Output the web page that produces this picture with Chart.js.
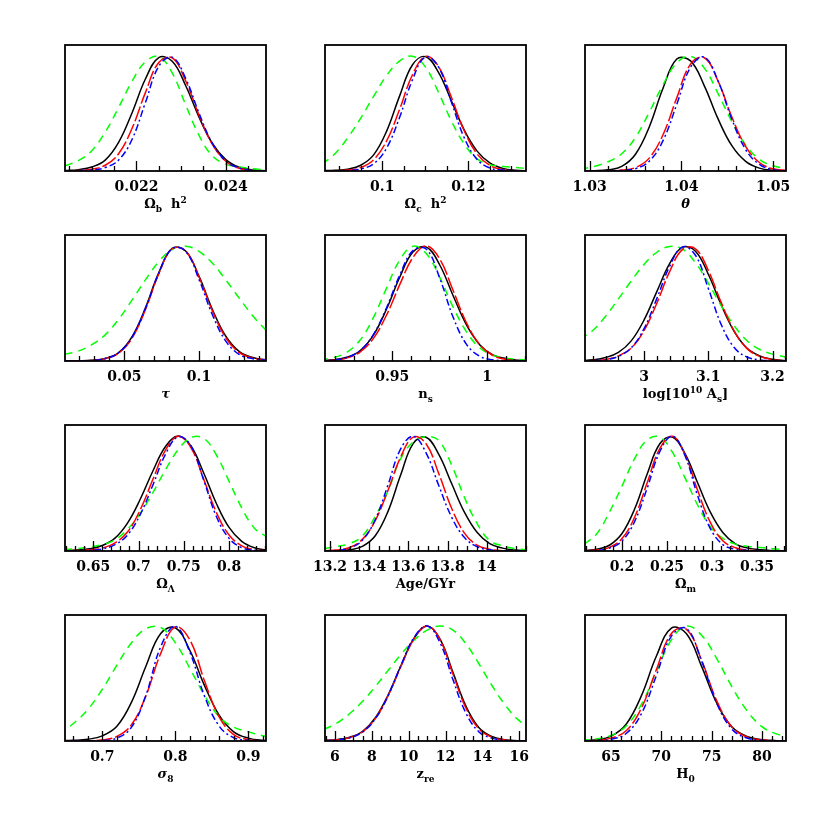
<!DOCTYPE html>
<html>
<head>
<meta charset="utf-8">
<script src="https://cdn.jsdelivr.net/npm/chart.js@4.4.0/dist/chart.umd.min.js"></script>
<style>
  html, body { margin: 0; padding: 0; background: #fff; }
  #wrap { position: relative; width: 830px; height: 830px; }
  #wrap canvas { position: absolute; }
</style>
</head>
<body>
<div id="wrap"></div>
<script>
// ---- Omega_b h^2
const obhX     = [0.0204, 0.0207, 0.0210, 0.0213, 0.0216, 0.0219, 0.0222, 0.0225, 0.0228, 0.0231, 0.0234, 0.0237, 0.0240, 0.0243, 0.0246, 0.0249];
const obhBlack = [0.004, 0.012, 0.035, 0.095, 0.249, 0.505, 0.800, 0.986, 0.954, 0.744, 0.469, 0.239, 0.099, 0.032, 0.009, 0.002];
const obhRed   = [0.002, 0.005, 0.015, 0.050, 0.150, 0.370, 0.682, 0.944, 0.983, 0.785, 0.486, 0.231, 0.085, 0.024, 0.005, 0.001];
const obhBlue  = [0.001, 0.003, 0.008, 0.030, 0.095, 0.274, 0.594, 0.911, 0.990, 0.807, 0.503, 0.240, 0.087, 0.025, 0.005, 0.001];
const obhGreen = [0.045, 0.090, 0.177, 0.338, 0.552, 0.780, 0.950, 0.997, 0.853, 0.577, 0.310, 0.131, 0.060, 0.035, 0.020, 0.010];
const obhTicks = [0.022, 0.024];

// ---- Omega_c h^2
const ochX     = [0.086, 0.089, 0.092, 0.095, 0.098, 0.101, 0.104, 0.107, 0.110, 0.113, 0.116, 0.119, 0.122, 0.125, 0.128, 0.131, 0.134];
const ochBlack = [0.003, 0.006, 0.016, 0.050, 0.140, 0.345, 0.649, 0.922, 0.995, 0.863, 0.616, 0.360, 0.175, 0.070, 0.023, 0.006, 0.001];
const ochRed   = [0.001, 0.003, 0.008, 0.030, 0.098, 0.261, 0.533, 0.835, 0.996, 0.914, 0.648, 0.354, 0.150, 0.049, 0.012, 0.002, 0.000];
const ochBlue  = [0.000, 0.001, 0.003, 0.018, 0.063, 0.199, 0.463, 0.791, 0.992, 0.910, 0.607, 0.293, 0.103, 0.026, 0.008, 0.002, 0.000];
const ochGreen = [0.060, 0.150, 0.290, 0.460, 0.650, 0.830, 0.955, 0.999, 0.906, 0.690, 0.440, 0.238, 0.108, 0.055, 0.040, 0.030, 0.020];
const ochTicks = [0.1, 0.12];

// ---- theta
const thX     = [1.029, 1.0305, 1.032, 1.0335, 1.035, 1.0365, 1.038, 1.0395, 1.041, 1.0425, 1.044, 1.0455, 1.047, 1.0485, 1.05, 1.0515];
const thBlack = [0.000, 0.003, 0.010, 0.040, 0.146, 0.383, 0.720, 0.974, 0.958, 0.741, 0.453, 0.220, 0.084, 0.025, 0.006, 0.001];
const thRed   = [0.000, 0.000, 0.001, 0.008, 0.030, 0.112, 0.315, 0.636, 0.930, 0.985, 0.782, 0.470, 0.215, 0.074, 0.019, 0.004];
const thBlue  = [0.000, 0.000, 0.001, 0.005, 0.020, 0.085, 0.264, 0.580, 0.903, 0.991, 0.783, 0.450, 0.187, 0.057, 0.012, 0.002];
const thGreen = [0.015, 0.040, 0.080, 0.150, 0.292, 0.510, 0.750, 0.940, 0.998, 0.895, 0.673, 0.430, 0.227, 0.101, 0.045, 0.020];
const thTicks = [1.03, 1.04, 1.05];

// ---- tau
const tauX     = [0.010, 0.019, 0.028, 0.037, 0.046, 0.055, 0.064, 0.073, 0.082, 0.091, 0.100, 0.109, 0.118, 0.127, 0.136, 0.145];
const tauBlack = [0.000, 0.002, 0.006, 0.022, 0.071, 0.208, 0.458, 0.767, 0.980, 0.957, 0.736, 0.446, 0.213, 0.081, 0.030, 0.010];
const tauRed   = [0.000, 0.001, 0.004, 0.020, 0.065, 0.195, 0.443, 0.757, 0.976, 0.958, 0.731, 0.434, 0.200, 0.072, 0.025, 0.008];
const tauBlue  = [0.000, 0.001, 0.004, 0.020, 0.070, 0.203, 0.452, 0.761, 0.977, 0.954, 0.708, 0.400, 0.171, 0.056, 0.020, 0.006];
const tauGreen = [0.060, 0.085, 0.140, 0.225, 0.360, 0.527, 0.703, 0.863, 0.970, 0.999, 0.953, 0.850, 0.703, 0.545, 0.392, 0.265];
const tauTicks = [0.05, 0.1];

// ---- n_s
const nsX     = [0.912, 0.919, 0.926, 0.933, 0.940, 0.947, 0.954, 0.961, 0.968, 0.975, 0.982, 0.989, 0.996, 1.003, 1.010, 1.017, 1.024];
const nsBlack = [0.003, 0.010, 0.032, 0.089, 0.223, 0.452, 0.731, 0.950, 0.990, 0.835, 0.570, 0.316, 0.142, 0.052, 0.020, 0.006, 0.001];
const nsRed   = [0.002, 0.007, 0.025, 0.078, 0.195, 0.400, 0.666, 0.903, 1.000, 0.886, 0.615, 0.335, 0.143, 0.048, 0.014, 0.003, 0.000];
const nsBlue  = [0.002, 0.008, 0.030, 0.089, 0.228, 0.463, 0.749, 0.962, 0.972, 0.720, 0.383, 0.147, 0.041, 0.010, 0.002, 0.000, 0.000];
const nsGreen = [0.012, 0.030, 0.075, 0.180, 0.375, 0.634, 0.880, 0.998, 0.933, 0.727, 0.470, 0.256, 0.115, 0.050, 0.025, 0.012, 0.005];
const nsTicks = [0.95, 1];

// ---- log[10^10 A_s]
const asX     = [2.90, 2.92, 2.94, 2.96, 2.98, 3.00, 3.02, 3.04, 3.06, 3.08, 3.10, 3.12, 3.14, 3.16, 3.18, 3.20, 3.22];
const asBlack = [0.003, 0.010, 0.030, 0.075, 0.175, 0.357, 0.606, 0.850, 0.991, 0.955, 0.755, 0.489, 0.260, 0.113, 0.045, 0.015, 0.003];
const asRed   = [0.001, 0.004, 0.013, 0.045, 0.112, 0.265, 0.505, 0.780, 0.971, 0.976, 0.788, 0.510, 0.265, 0.110, 0.040, 0.012, 0.003];
const asBlue  = [0.000, 0.003, 0.012, 0.040, 0.115, 0.282, 0.545, 0.826, 0.992, 0.920, 0.631, 0.319, 0.119, 0.035, 0.010, 0.002, 0.000];
const asGreen = [0.190, 0.265, 0.390, 0.540, 0.696, 0.840, 0.946, 0.997, 0.973, 0.855, 0.677, 0.482, 0.310, 0.178, 0.100, 0.060, 0.035];
const asTicks = [3, 3.1, 3.2];

// ---- Omega_Lambda
const olX     = [0.618, 0.632, 0.646, 0.660, 0.674, 0.688, 0.702, 0.716, 0.730, 0.744, 0.758, 0.772, 0.786, 0.800, 0.814, 0.828, 0.842];
const olBlack = [0.004, 0.009, 0.020, 0.048, 0.112, 0.245, 0.452, 0.698, 0.911, 1.000, 0.911, 0.678, 0.413, 0.205, 0.084, 0.028, 0.008];
const olRed   = [0.002, 0.004, 0.010, 0.025, 0.070, 0.167, 0.360, 0.626, 0.880, 0.999, 0.898, 0.625, 0.335, 0.139, 0.045, 0.011, 0.002];
const olBlue  = [0.001, 0.002, 0.006, 0.018, 0.055, 0.141, 0.319, 0.577, 0.845, 0.994, 0.914, 0.617, 0.300, 0.110, 0.029, 0.006, 0.001];
const olGreen = [0.012, 0.020, 0.035, 0.055, 0.098, 0.190, 0.328, 0.510, 0.709, 0.883, 0.986, 0.980, 0.835, 0.607, 0.375, 0.198, 0.120];
const olTicks = [0.65, 0.7, 0.75, 0.8];

// ---- Age/GYr
const ageX     = [13.17, 13.235, 13.30, 13.365, 13.43, 13.495, 13.56, 13.625, 13.69, 13.755, 13.82, 13.885, 13.95, 14.015, 14.08, 14.145, 14.21];
const ageBlack = [0.000, 0.002, 0.010, 0.040, 0.130, 0.340, 0.658, 0.936, 0.989, 0.840, 0.589, 0.340, 0.163, 0.064, 0.025, 0.008, 0.002];
const ageRed   = [0.002, 0.008, 0.031, 0.101, 0.261, 0.523, 0.815, 0.990, 0.933, 0.673, 0.374, 0.158, 0.051, 0.015, 0.003, 0.001, 0.000];
const ageBlue  = [0.001, 0.005, 0.025, 0.093, 0.270, 0.570, 0.886, 0.998, 0.854, 0.569, 0.296, 0.119, 0.038, 0.010, 0.002, 0.000, 0.000];
const ageGreen = [0.020, 0.040, 0.064, 0.130, 0.300, 0.520, 0.800, 0.950, 0.995, 0.960, 0.750, 0.470, 0.240, 0.090, 0.045, 0.020, 0.010];
const ageTicks = [13.2, 13.4, 13.6, 13.8, 14];

// ---- Omega_m
const omX     = [0.158, 0.172, 0.186, 0.200, 0.214, 0.228, 0.242, 0.256, 0.270, 0.284, 0.298, 0.312, 0.326, 0.340, 0.354, 0.368, 0.382];
const omBlack = [0.004, 0.015, 0.050, 0.152, 0.365, 0.670, 0.933, 0.991, 0.847, 0.593, 0.340, 0.161, 0.062, 0.025, 0.010, 0.004, 0.001];
const omRed   = [0.002, 0.008, 0.032, 0.108, 0.293, 0.593, 0.891, 0.998, 0.837, 0.528, 0.251, 0.089, 0.028, 0.008, 0.002, 0.000, 0.000];
const omBlue  = [0.001, 0.005, 0.025, 0.087, 0.256, 0.547, 0.864, 1.000, 0.829, 0.482, 0.197, 0.056, 0.015, 0.004, 0.001, 0.000, 0.000];
const omGreen = [0.060, 0.150, 0.338, 0.565, 0.804, 0.967, 0.990, 0.860, 0.636, 0.400, 0.213, 0.110, 0.060, 0.040, 0.030, 0.020, 0.010];
const omTicks = [0.2, 0.25, 0.3, 0.35];

// ---- sigma_8
const s8X     = [0.64, 0.66, 0.68, 0.70, 0.72, 0.74, 0.76, 0.78, 0.80, 0.82, 0.84, 0.86, 0.88, 0.90, 0.92, 0.94];
const s8Black = [0.002, 0.006, 0.015, 0.045, 0.128, 0.338, 0.655, 0.935, 0.985, 0.787, 0.482, 0.225, 0.080, 0.025, 0.006, 0.001];
const s8Red   = [0.000, 0.000, 0.002, 0.010, 0.040, 0.141, 0.397, 0.762, 0.993, 0.878, 0.522, 0.209, 0.056, 0.012, 0.002, 0.000];
const s8Blue  = [0.000, 0.000, 0.000, 0.003, 0.025, 0.120, 0.403, 0.820, 0.997, 0.770, 0.390, 0.130, 0.028, 0.006, 0.001, 0.000];
const s8Green = [0.060, 0.150, 0.273, 0.450, 0.660, 0.855, 0.978, 0.987, 0.855, 0.631, 0.397, 0.212, 0.120, 0.080, 0.045, 0.025];
const s8Ticks = [0.7, 0.8, 0.9];

// ---- z_re
const zreX     = [5.4, 6.1, 6.8, 7.5, 8.2, 8.9, 9.6, 10.3, 11.0, 11.7, 12.4, 13.1, 13.8, 14.5, 15.2, 15.9, 16.6];
const zreBlack = [0.004, 0.012, 0.033, 0.085, 0.205, 0.407, 0.663, 0.896, 1.000, 0.887, 0.597, 0.305, 0.118, 0.040, 0.012, 0.003, 0.000];
const zreRed   = [0.003, 0.010, 0.030, 0.080, 0.198, 0.400, 0.657, 0.892, 1.000, 0.882, 0.582, 0.288, 0.106, 0.034, 0.009, 0.002, 0.000];
const zreBlue  = [0.003, 0.010, 0.028, 0.078, 0.195, 0.400, 0.666, 0.903, 1.000, 0.855, 0.534, 0.244, 0.081, 0.025, 0.006, 0.001, 0.000];
const zreGreen = [0.100, 0.155, 0.239, 0.345, 0.475, 0.617, 0.757, 0.878, 0.964, 1.000, 0.965, 0.846, 0.674, 0.487, 0.320, 0.190, 0.103];
const zreTicks = [6, 8, 10, 12, 14, 16];

// ---- H_0
const h0X     = [62, 63.5, 65, 66.5, 68, 69.5, 71, 72.5, 74, 75.5, 77, 78.5, 80, 81.5, 83];
const h0Black = [0.003, 0.010, 0.042, 0.146, 0.390, 0.737, 0.981, 0.933, 0.649, 0.331, 0.124, 0.040, 0.012, 0.003, 0.001];
const h0Red   = [0.001, 0.005, 0.025, 0.089, 0.283, 0.619, 0.935, 0.971, 0.702, 0.351, 0.122, 0.035, 0.010, 0.003, 0.000];
const h0Blue  = [0.000, 0.003, 0.015, 0.065, 0.235, 0.568, 0.913, 0.978, 0.696, 0.330, 0.104, 0.026, 0.006, 0.001, 0.000];
const h0Green = [0.006, 0.018, 0.048, 0.130, 0.317, 0.600, 0.880, 1.000, 0.920, 0.717, 0.474, 0.265, 0.125, 0.060, 0.030];
const h0Ticks = [65, 70, 75, 80];

// panel setup: axis range, minor tick step, axis title pieces
const panels = [
  { x: obhX, k: obhBlack, r: obhRed, b: obhBlue, g: obhGreen, ticks: obhTicks, min: 0.0204, max: 0.0249, minor: 0.0005,
    title: [['Ω'], ['b', 'sub'], ['  h'], ['2', 'sup']] },
  { x: ochX, k: ochBlack, r: ochRed, b: ochBlue, g: ochGreen, ticks: ochTicks, min: 0.0867, max: 0.1334, minor: 0.005,
    title: [['Ω'], ['c', 'sub'], ['  h'], ['2', 'sup']] },
  { x: thX, k: thBlack, r: thRed, b: thBlue, g: thGreen, ticks: thTicks, min: 1.0295, max: 1.0514, minor: 0.002,
    title: [['θ', 'it']] },
  { x: tauX, k: tauBlack, r: tauRed, b: tauBlue, g: tauGreen, ticks: tauTicks, min: 0.0103, max: 0.1448, minor: 0.01,
    title: [['τ', 'it']] },
  { x: nsX, k: nsBlack, r: nsRed, b: nsBlue, g: nsGreen, ticks: nsTicks, min: 0.9146, max: 1.0204, minor: 0.01,
    title: [['n'], ['s', 'sub']] },
  { x: asX, k: asBlack, r: asRed, b: asBlue, g: asGreen, ticks: asTicks, min: 2.908, max: 3.221, minor: 0.02,
    title: [['log[10'], ['10', 'sup'], [' A'], ['s', 'sub'], [']']] },
  { x: olX, k: olBlack, r: olRed, b: olBlue, g: olGreen, ticks: olTicks, min: 0.6188, max: 0.8408, minor: 0.01,
    title: [['Ω'], ['Λ', 'sub']] },
  { x: ageX, k: ageBlack, r: ageRed, b: ageBlue, g: ageGreen, ticks: ageTicks, min: 13.1745, max: 14.2, minor: 0.05,
    title: [['Age/GYr']] },
  { x: omX, k: omBlack, r: omRed, b: omBlue, g: omGreen, ticks: omTicks, min: 0.1589, max: 0.3822, minor: 0.01,
    title: [['Ω'], ['m', 'sub']] },
  { x: s8X, k: s8Black, r: s8Red, b: s8Blue, g: s8Green, ticks: s8Ticks, min: 0.6489, max: 0.9242, minor: 0.02,
    title: [['σ', 'it'], ['8', 'sub']] },
  { x: zreX, k: zreBlack, r: zreRed, b: zreBlue, g: zreGreen, ticks: zreTicks, min: 5.458, max: 16.363, minor: 0.5,
    title: [['z'], ['re', 'sub']] },
  { x: h0X, k: h0Black, r: h0Red, b: h0Blue, g: h0Green, ticks: h0Ticks, min: 62.41, max: 82.39, minor: 1,
    title: [['H'], ['0', 'sub']] }
];

const FONT = '"DejaVu Serif", serif';
const colLeft = [65, 325, 585];
const rowTop = [45, 235, 425, 615];
const BOX_W = 201, BOX_H = 126;
const PAD_L = 25, PAD_T = 10, AXIS_H = 40, PAD_B = 25;

// frame box, inward tick marks and the axis title with sub/superscripts
const framePlugin = {
  id: 'frame',
  afterDatasetsDraw(chart, args, opts) {
    const { ctx, chartArea: a } = chart;
    const x = chart.scales.x;
    ctx.save();
    ctx.strokeStyle = '#000';
    ctx.lineWidth = 1.3;
    const first = Math.ceil(x.min / opts.minor - 1e-6);
    for (let k = first; k * opts.minor <= x.max + 1e-9; k++) {
      const v = k * opts.minor;
      const px = Math.round(x.getPixelForValue(v)) + 0.5;
      const major = opts.ticks.some(t => Math.abs(t - v) < opts.minor * 1e-3);
      ctx.beginPath();
      ctx.moveTo(px, a.bottom);
      ctx.lineTo(px, a.bottom - (major ? 10 : 5));
      ctx.stroke();
    }
    ctx.lineWidth = 1.8;
    ctx.strokeRect(a.left, a.top, a.width, a.height);

    // title
    const fontFor = (s) => {
      if (s === 'sub' || s === 'sup') return 'bold 9px ' + FONT;
      if (s === 'it') return 'italic bold 13px ' + FONT;
      return 'bold 13px ' + FONT;
    };
    let total = 0;
    opts.title.forEach(([t, s]) => { ctx.font = fontFor(s); total += ctx.measureText(t).width; });
    let cx = (a.left + a.right) / 2 - total / 2;
    const base = a.bottom + 37;
    ctx.fillStyle = '#000';
    ctx.textBaseline = 'alphabetic';
    ctx.textAlign = 'left';
    opts.title.forEach(([t, s]) => {
      ctx.font = fontFor(s);
      const dy = s === 'sub' ? 4 : (s === 'sup' ? -5 : 0);
      ctx.fillText(t, cx, base + dy);
      cx += ctx.measureText(t).width;
    });
    ctx.restore();
  }
};

const wrap = document.getElementById('wrap');

panels.forEach((p, i) => {
  const cv = document.createElement('canvas');
  const w = BOX_W + 2 * PAD_L;
  const h = PAD_T + BOX_H + AXIS_H + PAD_B;
  cv.width = w;
  cv.height = h;
  cv.style.width = w + 'px';
  cv.style.height = h + 'px';
  cv.style.left = (colLeft[i % 3] - PAD_L) + 'px';
  cv.style.top = (rowTop[Math.floor(i / 3)] - PAD_T) + 'px';
  wrap.appendChild(cv);

  const pts = ys => p.x.map((xv, j) => ({ x: xv, y: ys[j] }));
  const line = (ys, color, dash) => ({
    data: pts(ys),
    borderColor: color,
    borderWidth: 1.5,
    borderDash: dash,
    pointRadius: 0,
    fill: false,
    tension: 0.4
  });

  new Chart(cv, {
    type: 'line',
    data: {
      datasets: [
        line(p.b, '#0000ff', [7, 3, 2, 3]),
        line(p.r, '#ff0000', [16, 3]),
        line(p.g, '#00ff00', [8, 6]),
        line(p.k, '#000000', [])
      ]
    },
    plugins: [framePlugin],
    options: {
      responsive: false,
      animation: false,
      devicePixelRatio: 1,
      layout: { padding: { left: PAD_L, right: PAD_L, top: PAD_T, bottom: PAD_B } },
      plugins: {
        legend: { display: false },
        tooltip: { enabled: false },
        frame: { minor: p.minor, ticks: p.ticks, title: p.title }
      },
      scales: {
        x: {
          type: 'linear',
          min: p.min,
          max: p.max,
          grid: { display: false, drawTicks: false },
          border: { display: false },
          afterBuildTicks: s => { s.ticks = p.ticks.map(v => ({ value: v })); },
          afterFit: s => { s.height = AXIS_H; },
          ticks: {
            autoSkip: false,
            maxRotation: 0,
            padding: 8,
            color: '#000',
            font: { family: FONT, size: 14, weight: 'bold' },
            callback: v => String(v)
          }
        },
        y: { display: false, min: 0, max: 1.096 }
      }
    }
  });
});
</script>
</body>
</html>
